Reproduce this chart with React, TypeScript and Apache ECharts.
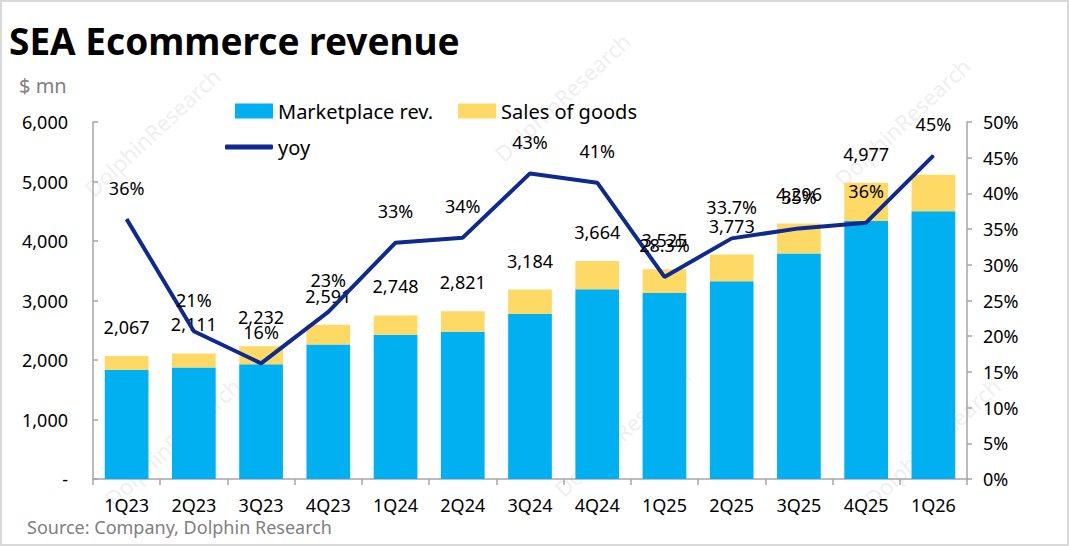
import React, { useEffect, useRef } from "react";
import * as echarts from "echarts";

// data
const quarters = ["1Q23", "2Q23", "3Q23", "4Q23", "1Q24", "2Q24", "3Q24", "4Q24", "1Q25", "2Q25", "3Q25", "4Q25", "1Q26"];
const marketplaceRev = [1830, 1875, 1930, 2260, 2426, 2476, 2775, 3191, 3124, 3324, 3789, 4337, 4500];
const salesOfGoods = [237, 236, 302, 331, 322, 345, 409, 473, 401, 449, 507, 640, 615];
const totalLabels = ["2,067", "2,111", "2,232", "2,591", "2,748", "2,821", "3,184", "3,664", "3,525", "3,773", "4,296", "4,977", ""];
const yoy = [36.4, 20.7, 16.2, 23.4, 33.1, 33.8, 42.8, 41.5, 28.3, 33.7, 35.1, 35.9, 45.3];
const yoyLabels = ["36%", "21%", "16%", "23%", "33%", "34%", "43%", "41%", "28.3%", "33.7%", "35%", "36%", "45%"];

const FONT = "Noto Sans";
const AXIS_GREY = "#a6a6a6";

const App: React.FC = () => {
  const chartRef = useRef<HTMLDivElement>(null);

  useEffect(() => {
    const chart = echarts.init(chartRef.current, null, { renderer: "svg" });

    // faint watermark texts
    const marks = [
      [150, 130], [560, 95], [900, 120], [170, 440], [620, 430], [930, 440],
    ].map(([x, y]) => ({
      type: "text",
      x,
      y,
      rotation: 0.75,
      z: -10,
      silent: true,
      style: { text: "DolphinResearch", fill: "#efefef", font: `22px '${FONT}'`, align: "center", verticalAlign: "middle" },
    }));

    const option: any = {
      animation: false,
      textStyle: { fontFamily: FONT },
      grid: { left: 91, right: 100, top: 120, bottom: 65 },
      graphic: [
        ...marks,
        {
          type: "text",
          left: 7,
          top: 20,
          style: { text: "SEA Ecommerce revenue", fill: "#000", font: `bold 37px '${FONT}'` },
        },
        {
          type: "text",
          left: 17,
          top: 73,
          style: { text: "$ mn", fill: "#808080", font: `20px '${FONT}'` },
        },
        {
          type: "text",
          left: 25,
          top: 516,
          style: { text: "Source: Company, Dolphin Research", fill: "#808080", font: `18px '${FONT}'` },
        },
      ],
      legend: [
        {
          data: ["Marketplace rev.", "Sales of goods"],
          left: 228,
          top: 94,
          icon: "rect",
          itemWidth: 38,
          itemHeight: 15,
          itemGap: 25,
          textStyle: { fontSize: 20, color: "#000", fontFamily: FONT },
        },
        {
          data: ["yoy"],
          left: 218,
          top: 130,
          icon: "roundRect",
          itemWidth: 48,
          itemHeight: 5,
          textStyle: { fontSize: 20, color: "#000", fontFamily: FONT },
        },
      ],
      xAxis: {
        type: "category",
        data: quarters,
        axisLine: { lineStyle: { color: AXIS_GREY, width: 1.5 } },
        axisTick: { show: true, length: 6, lineStyle: { color: AXIS_GREY, width: 1.5 } },
        axisLabel: { color: "#000", fontSize: 18, margin: 17, fontFamily: FONT },
      },
      yAxis: [
        {
          type: "value",
          min: 0,
          max: 6000,
          interval: 1000,
          splitLine: { show: false },
          axisLine: { show: true, lineStyle: { color: AXIS_GREY, width: 1.5 } },
          axisTick: { show: true, inside: true, length: 5, lineStyle: { color: AXIS_GREY, width: 1.5 } },
          axisLabel: {
            color: "#000",
            fontSize: 18,
            margin: 25,
            fontFamily: FONT,
            formatter: (v: number) => (v === 0 ? "-" : v.toLocaleString("en-US")),
          },
        },
        {
          type: "value",
          min: 0,
          max: 50,
          interval: 5,
          splitLine: { show: false },
          axisLine: { show: true, lineStyle: { color: AXIS_GREY, width: 1.5 } },
          axisTick: { show: true, length: 5, lineStyle: { color: AXIS_GREY, width: 1.5 } },
          axisLabel: { color: "#000", fontSize: 18, margin: 16, fontFamily: FONT, formatter: "{value}%" },
        },
      ],
      series: [
        {
          name: "Marketplace rev.",
          type: "bar",
          stack: "rev",
          barWidth: "65%",
          itemStyle: { color: "#00b0f0" },
          data: marketplaceRev,
        },
        {
          name: "Sales of goods",
          type: "bar",
          stack: "rev",
          itemStyle: { color: "#ffd966" },
          label: {
            show: true,
            position: "top",
            distance: 20,
            color: "#000",
            fontSize: 18,
            fontFamily: FONT,
            formatter: (p: any) => totalLabels[p.dataIndex],
          },
          data: salesOfGoods,
        },
        {
          name: "yoy",
          type: "line",
          yAxisIndex: 1,
          symbol: "circle",
          symbolSize: 1,
          showSymbol: true,
          z: 5,
          lineStyle: { color: "#0e2a8e", width: 4 },
          itemStyle: { color: "#0e2a8e" },
          label: {
            show: true,
            position: "top",
            distance: 22,
            color: "#000",
            fontSize: 18,
            fontFamily: FONT,
            formatter: (p: any) => yoyLabels[p.dataIndex],
          },
          data: yoy,
        },
      ],
    };

    chart.setOption(option);
    return () => chart.dispose();
  }, []);

  return (
    <div
      style={{
        position: "absolute",
        left: 0,
        top: 0,
        width: 1069,
        height: 546,
        boxSizing: "border-box",
        border: "2px solid #d9d9d9",
        background: "#fff",
      }}
    >
      <div ref={chartRef} style={{ width: 1065, height: 542 }} />
    </div>
  );
};

export default App;
